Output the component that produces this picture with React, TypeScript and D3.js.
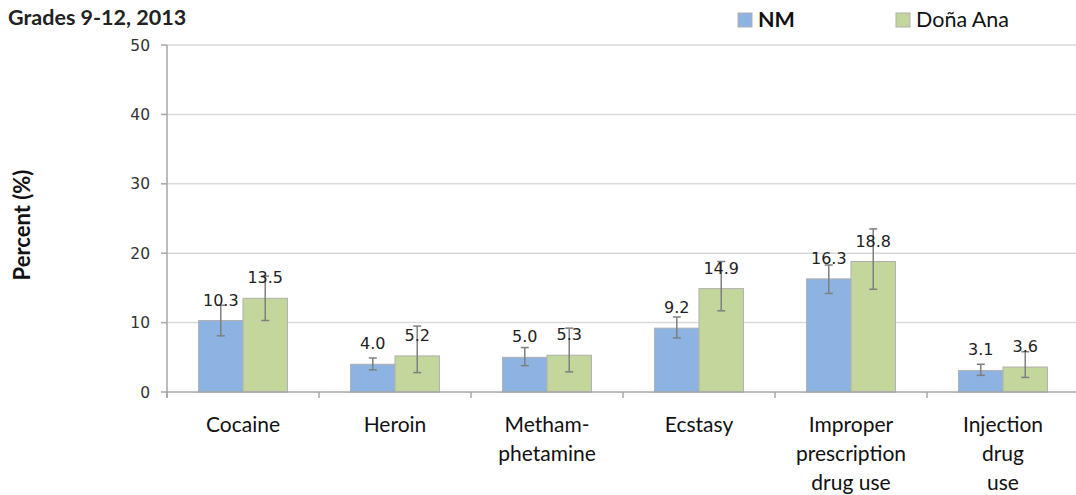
import { useEffect, useRef } from 'react';
import * as d3 from 'd3';

const categories = [
  ['Cocaine'],
  ['Heroin'],
  ['Metham-', 'phetamine'],
  ['Ecstasy'],
  ['Improper', 'prescription', 'drug use'],
  ['Injection', 'drug', 'use'],
];
const seriesNames = ['NM', 'Doña Ana'];
const nmValues = [10.3, 4.0, 5.0, 9.2, 16.3, 3.1];
const nmLow = [8.1, 3.2, 3.8, 7.8, 14.2, 2.4];
const nmHigh = [12.5, 4.9, 6.4, 10.8, 18.3, 4.0];
const daValues = [13.5, 5.2, 5.3, 14.9, 18.8, 3.6];
const daLow = [10.3, 2.8, 2.9, 11.7, 14.8, 2.1];
const daHigh = [16.7, 9.5, 9.2, 18.8, 23.5, 5.8];
const yTicks = [0, 10, 20, 30, 40, 50];

const COLORS = ['#8db3e2', '#c3d69b'];

export default function App() {
  const svgRef = useRef<SVGSVGElement>(null);
  const width = 1076;
  const height = 495;

  useEffect(() => {
    if (!svgRef.current) return;
    const svg = d3.select(svgRef.current);
    svg.selectAll('*').remove();

    const left = 167;
    const plotRight = left + 152 * 6;
    const x = d3
      .scaleBand<number>()
      .domain(d3.range(categories.length))
      .range([left, plotRight])
      .paddingInner(0)
      .paddingOuter(0);
    const y = d3.scaleLinear().domain([0, 50]).range([392, 45]);
    const inner = d3.scaleBand<number>().domain([0, 1]).range([0, x.bandwidth()]).paddingOuter(0.71).paddingInner(0);

    const series = [
      { name: seriesNames[0], values: nmValues, low: nmLow, high: nmHigh },
      { name: seriesNames[1], values: daValues, low: daLow, high: daHigh },
    ];

    // Gridlines
    svg
      .append('g')
      .selectAll('line')
      .data(yTicks.filter((t) => t > 0))
      .join('line')
      .attr('x1', left)
      .attr('x2', width)
      .attr('y1', (d) => y(d))
      .attr('y2', (d) => y(d))
      .attr('stroke', '#d9d9d9')
      .attr('stroke-width', 1.5);

    // Y axis
    svg
      .append('line')
      .attr('x1', left)
      .attr('x2', left)
      .attr('y1', y(50))
      .attr('y2', y(0) + 6)
      .attr('stroke', '#a6a6a6')
      .attr('stroke-width', 1.5);
    svg
      .append('g')
      .selectAll('line')
      .data(yTicks)
      .join('line')
      .attr('x1', left - 6)
      .attr('x2', left)
      .attr('y1', (d) => y(d))
      .attr('y2', (d) => y(d))
      .attr('stroke', '#a6a6a6')
      .attr('stroke-width', 1.5);
    svg
      .append('g')
      .selectAll('text')
      .data(yTicks)
      .join('text')
      .attr('x', 150)
      .attr('y', (d) => y(d))
      .attr('dy', '0.36em')
      .attr('text-anchor', 'end')
      .attr('font-family', 'DejaVu Sans')
      .attr('font-size', 15.5)
      .attr('fill', '#333')
      .text((d) => d);

    // Bars
    series.forEach((s, si) => {
      const g = svg.append('g');
      g.selectAll('rect')
        .data(s.values)
        .join('rect')
        .attr('x', (_, i) => (x(i) as number) + (inner(si) as number))
        .attr('y', (d) => y(d))
        .attr('width', inner.bandwidth())
        .attr('height', (d) => y(0) - y(d))
        .attr('fill', COLORS[si])
        .attr('stroke', '#b0b0b0')
        .attr('stroke-width', 1);
    });

    // X axis
    svg
      .append('line')
      .attr('x1', left)
      .attr('x2', width)
      .attr('y1', y(0))
      .attr('y2', y(0))
      .attr('stroke', '#a6a6a6')
      .attr('stroke-width', 1.5);
    svg
      .append('g')
      .selectAll('line')
      .data(d3.range(categories.length + 1))
      .join('line')
      .attr('x1', (i) => left + i * x.bandwidth())
      .attr('x2', (i) => left + i * x.bandwidth())
      .attr('y1', y(0))
      .attr('y2', y(0) + 6)
      .attr('stroke', '#a6a6a6')
      .attr('stroke-width', 1.5);

    // Error bars
    series.forEach((s, si) => {
      const g = svg.append('g').attr('stroke', '#7f7f7f').attr('stroke-width', 1.5);
      s.values.forEach((_, i) => {
        const cx = (x(i) as number) + (inner(si) as number) + inner.bandwidth() / 2;
        g.append('line').attr('x1', cx).attr('x2', cx).attr('y1', y(s.low[i])).attr('y2', y(s.high[i]));
        [s.low[i], s.high[i]].forEach((v) => {
          g.append('line').attr('x1', cx - 4).attr('x2', cx + 4).attr('y1', y(v)).attr('y2', y(v));
        });
      });
    });

    // Value labels
    series.forEach((s, si) => {
      svg
        .append('g')
        .selectAll('text')
        .data(s.values)
        .join('text')
        .attr('x', (_, i) => (x(i) as number) + (inner(si) as number) + inner.bandwidth() / 2)
        .attr('y', (d) => y(d) - 15)
        .attr('text-anchor', 'middle')
        .attr('font-family', 'DejaVu Sans')
        .attr('font-size', 16)
        .attr('fill', '#222')
        .text((d) => d.toFixed(1));
    });

    // Category labels
    const cat = svg.append('g');
    categories.forEach((lines, i) => {
      const cx = (x(i) as number) + x.bandwidth() / 2;
      lines.forEach((line, li) => {
        cat
          .append('text')
          .attr('x', cx)
          .attr('y', 432 + li * 29)
          .attr('text-anchor', 'middle')
          .attr('font-family', 'Lato')
          .attr('font-size', 21)
          .attr('fill', '#111')
          .text(line);
      });
    });

    // Y title
    svg
      .append('text')
      .attr('transform', `translate(30,225) rotate(-90)`)
      .attr('text-anchor', 'middle')
      .attr('font-family', 'Lato')
      .attr('font-weight', 'bold')
      .attr('font-size', 22)
      .attr('fill', '#111')
      .text('Percent (%)');

    // Title
    svg
      .append('text')
      .attr('x', 8)
      .attr('y', 25)
      .attr('font-family', 'Lato')
      .attr('font-weight', 'bold')
      .attr('font-size', 21.5)
      .attr('fill', '#222')
      .text('Grades 9-12, 2013');

    // Legend
    const legendX = [738, 896];
    seriesNames.forEach((name, si) => {
      svg
        .append('rect')
        .attr('x', legendX[si])
        .attr('y', 13)
        .attr('width', 14)
        .attr('height', 14)
        .attr('fill', COLORS[si])
        .attr('stroke', '#b0b0b0');
      svg
        .append('text')
        .attr('x', legendX[si] + 20)
        .attr('y', 27)
        .attr('font-family', 'Lato')
        .attr('font-weight', si === 0 ? 'bold' : 'normal')
        .attr('font-size', 21.5)
        .attr('fill', '#111')
        .text(name);
    });
  }, []);

  return (
    <svg
      ref={svgRef}
      width={width}
      height={height}
      style={{ position: 'absolute', left: 0, top: 0, background: '#fff' }}
    />
  );
}
